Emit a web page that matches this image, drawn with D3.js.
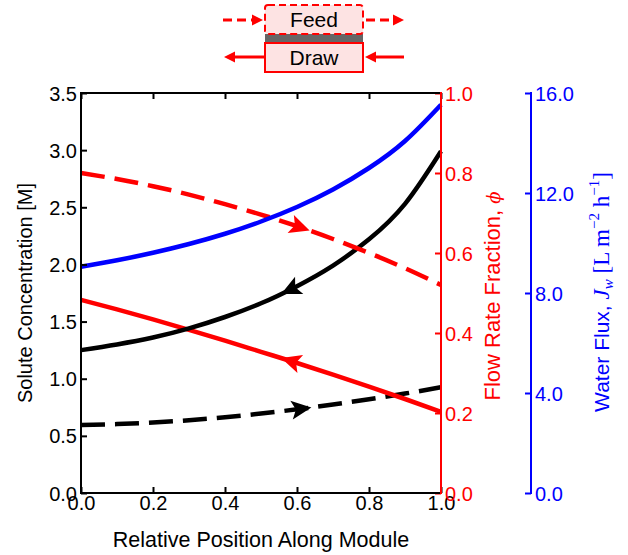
<!DOCTYPE html>
<html><head><meta charset="utf-8">
<script src="https://cdn.jsdelivr.net/npm/d3@7"></script>
<style>
html,body{margin:0;padding:0;background:#fff;}
text{font-family:"Liberation Sans",Arial,sans-serif;}
</style></head>
<body>
<svg id="chart" width="628" height="555"></svg>
<script>
// ---------- data ----------
const positions = [0, 0.1, 0.2, 0.3, 0.4, 0.5, 0.6, 0.7, 0.8, 0.9, 1.0];
const drawConc  = [1.25, 1.30, 1.36, 1.44, 1.54, 1.66, 1.81, 1.99, 2.22, 2.53, 2.99];   // black solid [M]
const feedConc  = [0.595, 0.603, 0.617, 0.637, 0.663, 0.695, 0.732, 0.774, 0.82, 0.87, 0.925]; // black dashed [M]
const feedPhi   = [0.80, 0.785, 0.767, 0.746, 0.722, 0.696, 0.667, 0.635, 0.60, 0.562, 0.52];  // red dashed
const drawPhi   = [0.483, 0.459, 0.434, 0.408, 0.381, 0.353, 0.325, 0.296, 0.266, 0.235, 0.203]; // red solid
const waterFlux = [9.05, 9.31, 9.61, 9.96, 10.37, 10.86, 11.44, 12.14, 13.0, 14.08, 15.53]; // blue [L m-2 h-1]
const xTicks    = [0, 0.2, 0.4, 0.6, 0.8, 1.0];
const concTicks = [0, 0.5, 1.0, 1.5, 2.0, 2.5, 3.0, 3.5];
const phiTicks  = [0, 0.2, 0.4, 0.6, 0.8, 1.0];
const fluxTicks = [0, 4, 8, 12, 16];
// arrow positions (x) and directions (+1 right, -1 left)
const arrowSpecs = [
  {series:"drawConc", at:0.556, dir:-1},
  {series:"feedConc", at:0.64,  dir: 1},
  {series:"feedPhi",  at:0.635, dir: 1},
  {series:"drawPhi",  at:0.556, dir:-1}
];

// ---------- layout ----------
const L = 81, R = 441, T = 93, B = 493, BLUEX = 531;
const RED = "#ff0000", BLUE = "#0000ff";
const svg = d3.select("#chart");

const x = d3.scaleLinear().domain([0,1]).range([L,R]);
const yC = d3.scaleLinear().domain([0,3.5]).range([B,T]);
const yP = d3.scaleLinear().domain([0,1]).range([B,T]);
const yF = d3.scaleLinear().domain([0,16]).range([B,T]);

// ---------- curves ----------
const series = {
  drawConc:{vals:drawConc, y:yC, color:"#000", dash:null},
  feedConc:{vals:feedConc, y:yC, color:"#000", dash:"24,10"},
  feedPhi:{vals:feedPhi, y:yP, color:RED, dash:"24,10"},
  drawPhi:{vals:drawPhi, y:yP, color:RED, dash:null},
  waterFlux:{vals:waterFlux, y:yF, color:BLUE, dash:null}
};
const curvesG = svg.append("g");
const paths = {};
["feedConc","drawPhi","drawConc","feedPhi","waterFlux"].forEach(k=>{
  const s = series[k];
  const line = d3.line().x((d,i)=>x(positions[i])).y(d=>s.y(d)).curve(d3.curveNatural);
  paths[k] = curvesG.append("path").attr("d", line(s.vals))
    .attr("fill","none").attr("stroke",s.color).attr("stroke-width",4.5)
    .attr("stroke-dasharray",s.dash);
});

// arrowheads along the curves
function pointAtX(pathNode, px){
  const len = pathNode.getTotalLength();
  let lo=0, hi=len;
  for(let i=0;i<40;i++){
    const mid=(lo+hi)/2;
    if(pathNode.getPointAtLength(mid).x < px) lo=mid; else hi=mid;
  }
  return (lo+hi)/2;
}
arrowSpecs.forEach(a=>{
  const node = paths[a.series].node();
  const s = pointAtX(node, x(a.at));
  const p = node.getPointAtLength(s);
  const q = node.getPointAtLength(s + a.dir*2);
  const ang = Math.atan2(q.y-p.y, q.x-p.x)*180/Math.PI;
  const Lh=20, W=19;
  svg.append("path")
    .attr("d",`M0,0 L${-Lh},${-W/2} L${-Lh*0.78},0 L${-Lh},${W/2} Z`)
    .attr("fill",series[a.series].color)
    .attr("transform",`translate(${p.x},${p.y}) rotate(${ang})`);
});

// ---------- axes ----------
const tickLen = 6;
const fmt1 = d3.format(".1f");
const axG = svg.append("g");
function styleAxis(g, color){
  g.select(".domain").remove();
  g.selectAll("line").attr("stroke",color).attr("stroke-width",2);
  g.selectAll("text").attr("fill",color).attr("font-size",20)
   .attr("font-family","'Liberation Sans',Arial,sans-serif");
}
// bottom
const gB = axG.append("g").attr("transform",`translate(0,${B})`)
  .call(d3.axisBottom(x).tickValues(xTicks).tickFormat(fmt1).tickSizeInner(-tickLen).tickPadding(1));
styleAxis(gB,"#000");
gB.selectAll("text").attr("dy","0.78em");
// top
const gT = axG.append("g").attr("transform",`translate(0,${T})`)
  .call(d3.axisTop(x).tickValues(xTicks).tickFormat("").tickSizeInner(-tickLen));
styleAxis(gT,"#000");
// left
const gL = axG.append("g").attr("transform",`translate(${L},0)`)
  .call(d3.axisLeft(yC).tickValues(concTicks).tickFormat(fmt1).tickSizeInner(-tickLen).tickPadding(4));
styleAxis(gL,"#000");
gL.selectAll("text").attr("dy","0.35em");
// right red
const gR = axG.append("g").attr("transform",`translate(${R},0)`)
  .call(d3.axisRight(yP).tickValues(phiTicks).tickFormat(fmt1).tickSizeInner(-tickLen).tickPadding(4));
styleAxis(gR,RED);
gR.selectAll("text").attr("dy","0.35em");
// blue
const gF = axG.append("g").attr("transform",`translate(${BLUEX},0)`)
  .call(d3.axisRight(yF).tickValues(fluxTicks).tickFormat(fmt1).tickSizeInner(-tickLen).tickPadding(4));
styleAxis(gF,BLUE);
gF.selectAll("text").attr("dy","0.35em");

// frame lines
const fr = svg.append("g").attr("stroke-width",2).attr("stroke-linecap","square");
fr.append("line").attr("x1",L).attr("x2",R).attr("y1",T).attr("y2",T).attr("stroke","#000");
fr.append("line").attr("x1",L).attr("x2",R).attr("y1",B).attr("y2",B).attr("stroke","#000");
fr.append("line").attr("x1",L).attr("x2",L).attr("y1",T).attr("y2",B).attr("stroke","#000");
fr.append("line").attr("x1",R).attr("x2",R).attr("y1",T).attr("y2",B).attr("stroke",RED);
fr.append("line").attr("x1",BLUEX).attr("x2",BLUEX).attr("y1",T).attr("y2",B).attr("stroke",BLUE);

// ---------- axis titles ----------
svg.append("text").attr("x",(L+R)/2).attr("y",547).attr("text-anchor","middle")
  .attr("font-size",21.5).attr("fill","#000").text("Relative Position Along Module");
svg.append("text").attr("transform",`translate(32,${(T+B)/2}) rotate(-90)`)
  .attr("text-anchor","middle").attr("font-size",20).attr("fill","#000")
  .text("Solute Concentration [M]");
const rt = svg.append("text").attr("transform",`translate(500,296) rotate(-90)`)
  .attr("text-anchor","middle").attr("font-size",22).attr("fill",RED);
rt.append("tspan").text("Flow Rate Fraction, ");
rt.append("tspan").attr("font-family","'DejaVu Serif',serif").attr("font-style","italic").attr("font-size",18).text("ϕ");
const bt = svg.append("text").attr("transform",`translate(609,292) rotate(-90)`)
  .attr("text-anchor","middle").attr("font-size",21).attr("fill",BLUE);
bt.append("tspan").text("Water Flux, ");
const serif = "'Liberation Serif','Times New Roman',serif";
bt.append("tspan").attr("font-family",serif).attr("font-style","italic").attr("font-size",23).text("J");
bt.append("tspan").attr("font-family",serif).attr("font-style","italic").attr("font-size",15).attr("dy",4).text("w");
bt.append("tspan").attr("font-family",serif).attr("font-size",23).attr("dy",-4).text(" [L m");
bt.append("tspan").attr("font-family",serif).attr("font-size",15).attr("dy",-10).text("−2");
bt.append("tspan").attr("font-family",serif).attr("font-size",23).attr("dy",10).text(" h");
bt.append("tspan").attr("font-family",serif).attr("font-size",15).attr("dy",-10).text("−1");
bt.append("tspan").attr("font-family",serif).attr("font-size",23).attr("dy",10).text("]");

// ---------- module schematic ----------
const sch = svg.append("g");
const bx0 = 265, bx1 = 363;
sch.append("rect").attr("x",bx0).attr("y",34).attr("width",bx1-bx0).attr("height",9).attr("fill","#666");
sch.append("rect").attr("x",bx0).attr("y",5).attr("width",bx1-bx0).attr("height",29).attr("rx",3)
  .attr("fill","#fde3e3").attr("stroke",RED).attr("stroke-width",2).attr("stroke-dasharray","7,4");
sch.append("rect").attr("x",bx0).attr("y",43).attr("width",bx1-bx0).attr("height",29)
  .attr("fill","#fde3e3").attr("stroke",RED).attr("stroke-width",2);
sch.append("text").attr("x",(bx0+bx1)/2).attr("y",27).attr("text-anchor","middle").attr("font-size",21).text("Feed");
sch.append("text").attr("x",(bx0+bx1)/2).attr("y",65).attr("text-anchor","middle").attr("font-size",21).text("Draw");
function smallArrow(x1,x2,y,dashed){
  const dir = x2>x1?1:-1;
  sch.append("line").attr("x1",x1).attr("x2",x2-dir*9).attr("y1",y).attr("y2",y)
    .attr("stroke",RED).attr("stroke-width",3).attr("stroke-dasharray",dashed?"9,5":null);
  sch.append("path").attr("d",`M${x2},${y} L${x2-dir*11},${y-5.5} L${x2-dir*11},${y+5.5} Z`).attr("fill",RED);
}
smallArrow(223,263,20,true);
smallArrow(366,404,20,true);
smallArrow(264,224,57,false);
smallArrow(404,365,57,false);
</script>
</body></html>
